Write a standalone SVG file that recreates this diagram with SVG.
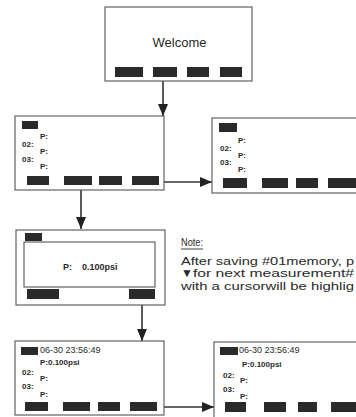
<svg xmlns="http://www.w3.org/2000/svg" width="356" height="417" viewBox="0 0 356 417">
<defs>
<style>
.box{fill:#fff;stroke:#555;stroke-width:1.1}
.btn{fill:#2a2a2a}
.t{font-family:"Liberation Sans",Arial,sans-serif;fill:#2a2a2a}
.s{font-size:8px;font-weight:bold}
.m{font-size:9px}
.n{font-size:11.5px}
.conn{stroke:#333;stroke-width:1.6;fill:none;marker-end:url(#ah)}
</style>
<marker id="ah" markerUnits="userSpaceOnUse" markerWidth="12" markerHeight="12" viewBox="0 0 12 12" refX="12" refY="6" orient="auto">
<path d="M0,1 L12,6 L0,11 Z" fill="#222"/>
</marker>
</defs>
<rect width="356" height="417" fill="#fff"/>

<g id="connectors">
<line class="conn" x1="163" y1="81" x2="163" y2="116"/>
<line class="conn" x1="164" y1="182" x2="212" y2="182"/>
<line class="conn" x1="81" y1="190" x2="81" y2="229"/>
<line class="conn" x1="142" y1="305" x2="142" y2="341"/>
<line class="conn" x1="164" y1="407" x2="214" y2="407"/>
</g>

<g id="welcome">
<rect class="box" x="105" y="7" width="147" height="74"/>
<text class="t" x="179.5" y="47" font-size="13" text-anchor="middle">Welcome</text>
<rect class="btn" x="115" y="67" width="28" height="10"/>
<rect class="btn" x="153" y="67" width="24" height="10"/>
<rect class="btn" x="187" y="67" width="22" height="10"/>
<rect class="btn" x="220" y="67" width="22" height="10"/>
</g>

<g id="list1">
<rect class="box" x="15" y="116" width="149" height="74"/>
<rect class="btn" x="22" y="121" width="16" height="8"/>
<text class="t s" x="40" y="139">P:</text>
<text class="t s" x="22" y="147">02:</text>
<text class="t s" x="40" y="154">P:</text>
<text class="t s" x="22" y="162">03:</text>
<text class="t s" x="40" y="169">P:</text>
<rect class="btn" x="27" y="176" width="22" height="9"/>
<rect class="btn" x="64" y="176" width="28" height="9"/>
<rect class="btn" x="99" y="176" width="23" height="9"/>
<rect class="btn" x="132" y="176" width="27" height="9"/>
</g>

<g id="list2">
<rect class="box" x="212" y="118" width="160" height="75"/>
<rect class="btn" x="219" y="123" width="18" height="9"/>
<text class="t s" x="238" y="143">P:</text>
<text class="t s" x="220" y="151">02:</text>
<text class="t s" x="238" y="158">P:</text>
<text class="t s" x="220" y="165">03:</text>
<text class="t s" x="238" y="172">P:</text>
<rect class="btn" x="223" y="178" width="24" height="10"/>
<rect class="btn" x="262" y="178" width="26" height="10"/>
<rect class="btn" x="296" y="178" width="22" height="10"/>
<rect class="btn" x="328" y="178" width="30" height="10"/>
</g>

<g id="measure">
<rect class="box" x="16" y="230" width="149" height="75"/>
<rect class="box" x="24" y="242" width="131" height="45"/>
<rect class="btn" x="25" y="233" width="17" height="8"/>
<text class="t m" x="63" y="270" font-weight="bold">P:</text>
<text class="t m" x="82" y="270" font-weight="bold">0.100psi</text>
<rect class="btn" x="27" y="289" width="32" height="10"/>
<rect class="btn" x="129" y="289" width="26" height="10"/>
</g>

<g id="note">
<text class="t" x="181" y="246" font-size="11" textLength="22" lengthAdjust="spacingAndGlyphs">Note:</text>
<line x1="181" y1="249" x2="203" y2="249" stroke="#2a2a2a" stroke-width="0.9"/>
<text class="t n" x="181" y="265" textLength="173" lengthAdjust="spacingAndGlyphs">After saving #01memory, p</text>
<text class="t" x="181" y="277" font-size="12">▼</text>
<text class="t n" x="193" y="277" textLength="161" lengthAdjust="spacingAndGlyphs">for next measurement#</text>
<text class="t n" x="181" y="289.5" textLength="173" lengthAdjust="spacingAndGlyphs">with a cursorwill be highlig</text>
</g>

<g id="saved1">
<rect class="box" x="15" y="341" width="149" height="74"/>
<rect class="btn" x="21" y="347" width="17" height="8"/>
<text class="t m" x="40" y="353">06-30 23:56:49</text>
<text class="t s" x="40" y="365">P:0.100psi</text>
<text class="t s" x="22" y="375">02:</text>
<text class="t s" x="40" y="381">P:</text>
<text class="t s" x="22" y="389">03:</text>
<text class="t s" x="40" y="397">P:</text>
<rect class="btn" x="25" y="402" width="23" height="9"/>
<rect class="btn" x="63" y="402" width="27" height="9"/>
<rect class="btn" x="98" y="402" width="22" height="9"/>
<rect class="btn" x="130" y="402" width="27" height="9"/>
</g>

<g id="saved2">
<rect class="box" x="214" y="342" width="160" height="80"/>
<rect class="btn" x="220" y="347" width="18" height="8"/>
<text class="t m" x="239" y="353">06-30 23:56:49</text>
<text class="t s" x="242" y="367">P:0.100psi</text>
<text class="t s" x="223" y="378">02:</text>
<text class="t s" x="240" y="383">P:</text>
<text class="t s" x="223" y="392">03:</text>
<text class="t s" x="240" y="399">P:</text>
<rect class="btn" x="225" y="402" width="21" height="10"/>
<rect class="btn" x="264" y="402" width="22" height="10"/>
<rect class="btn" x="298" y="402" width="19" height="10"/>
<rect class="btn" x="331" y="402" width="30" height="10"/>
</g>
</svg>
